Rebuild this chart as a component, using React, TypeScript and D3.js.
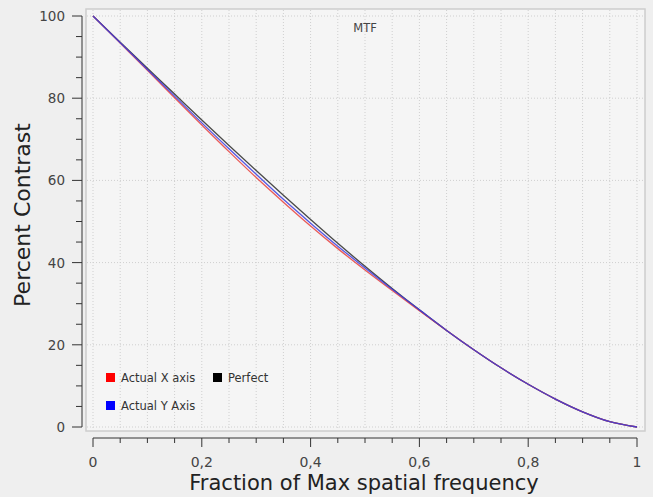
import { useEffect, useRef } from 'react';
import * as d3 from 'd3';

// fraction of max spatial frequency
const freqs = [0, 0.05, 0.1, 0.15, 0.2, 0.25, 0.3, 0.35, 0.4, 0.45, 0.5, 0.55, 0.6, 0.65, 0.7, 0.75, 0.8, 0.85, 0.9, 0.95, 1];
const perfect = [100, 93.6, 87.3, 81.0, 74.7, 68.5, 62.4, 56.4, 50.5, 44.7, 39.1, 33.7, 28.5, 23.5, 18.8, 14.4, 10.4, 6.8, 3.7, 1.3, 0];
const actualX = [100, 93.4, 86.8, 80.1, 73.5, 67.0, 60.7, 54.7, 48.9, 43.4, 38.2, 33.2, 28.3, 23.5, 18.8, 14.4, 10.4, 6.8, 3.7, 1.3, 0];
const actualY = [100, 93.5, 87.0, 80.5, 74.0, 67.7, 61.5, 55.4, 49.6, 44.0, 38.7, 33.5, 28.5, 23.5, 18.8, 14.4, 10.4, 6.8, 3.7, 1.3, 0];

const xTicks = [0, 0.2, 0.4, 0.6, 0.8, 1];
const xTickLabels = ['0', '0,2', '0,4', '0,6', '0,8', '1'];
const yTicks = [0, 20, 40, 60, 80, 100];

const seriesNames = ['Perfect', 'Actual X axis', 'Actual Y Axis'];
const seriesColors = ['#2a2a2a', '#e8403c', '#3a3ae0'];

const W = 653;
const H = 497;

export default function App() {
  const svgRef = useRef<SVGSVGElement>(null);

  useEffect(() => {
    if (!svgRef.current) return;
    const svg = d3.select(svgRef.current);
    svg.selectAll('*').remove();

    const x = d3.scaleLinear().domain([0, 1]).range([93, 637]);
    const y = d3.scaleLinear().domain([0, 100]).range([427, 16]);
    const font = 'DejaVu Sans, Verdana, sans-serif';

    svg.append('rect').attr('width', W).attr('height', H).attr('fill', '#efefef');

    // plot frame
    svg.append('rect')
      .attr('x', 86).attr('y', 9).attr('width', 559).attr('height', 422)
      .attr('fill', '#f5f5f5').attr('stroke', '#cdcdcd').attr('stroke-width', 1.5);

    // grid
    const g = svg.append('g');
    g.selectAll('line.vg')
      .data(d3.range(0, 21).map(i => i * 0.05))
      .join('line')
      .attr('x1', d => x(d)).attr('x2', d => x(d))
      .attr('y1', 10).attr('y2', 430)
      .attr('stroke', '#cfcfcf').attr('stroke-dasharray', '1,2');
    g.selectAll('line.hg')
      .data(yTicks)
      .join('line')
      .attr('x1', 87).attr('x2', 644)
      .attr('y1', d => y(d)).attr('y2', d => y(d))
      .attr('stroke', '#cfcfcf').attr('stroke-dasharray', '1,2');

    // y axis
    const ya = svg.append('g').attr('stroke', '#333');
    ya.append('line').attr('x1', 82).attr('x2', 82).attr('y1', y(100)).attr('y2', y(0));
    ya.selectAll('line.t')
      .data(d3.range(0, 21).map(i => i * 5))
      .join('line')
      .attr('x1', d => (d % 20 === 0 ? 72 : 76)).attr('x2', 82)
      .attr('y1', d => y(d)).attr('y2', d => y(d));
    svg.append('g').selectAll('text')
      .data(yTicks)
      .join('text')
      .attr('x', 65).attr('y', d => y(d) + 5)
      .attr('text-anchor', 'end')
      .attr('font-family', font).attr('font-size', 13.5).attr('fill', '#444')
      .text(d => String(d));

    // x axis
    const xa = svg.append('g').attr('stroke', '#333');
    xa.append('line').attr('x1', x(0)).attr('x2', x(1)).attr('y1', 438).attr('y2', 438);
    xa.selectAll('line.t')
      .data(d3.range(0, 21).map(i => i * 0.05))
      .join('line')
      .attr('x1', d => x(d)).attr('x2', d => x(d))
      .attr('y1', 438).attr('y2', (d, i) => (i % 4 === 0 ? 447 : 443));
    svg.append('g').selectAll('text')
      .data(xTicks)
      .join('text')
      .attr('x', d => x(d)).attr('y', 467)
      .attr('text-anchor', 'middle')
      .attr('font-family', font).attr('font-size', 14).attr('fill', '#444')
      .text((d, i) => xTickLabels[i]);

    // axis titles
    svg.append('text')
      .attr('x', 364).attr('y', 490)
      .attr('text-anchor', 'middle')
      .attr('font-family', font).attr('font-size', 21).attr('fill', '#222')
      .text('Fraction of Max spatial frequency');
    svg.append('text')
      .attr('transform', 'translate(30,215) rotate(-90)')
      .attr('text-anchor', 'middle')
      .attr('font-family', font).attr('font-size', 22).attr('fill', '#222')
      .text('Percent Contrast');

    svg.append('text')
      .attr('x', 365).attr('y', 32)
      .attr('text-anchor', 'middle')
      .attr('font-family', font).attr('font-size', 11.5).attr('fill', '#444')
      .text('MTF');

    // curves
    const line = d3.line<number>()
      .x((d, i) => x(freqs[i]))
      .y(d => y(d))
      .curve(d3.curveMonotoneX);
    [perfect, actualX, actualY].forEach((s, i) => {
      svg.append('path')
        .attr('d', line(s))
        .attr('fill', 'none')
        .attr('stroke', seriesColors[i])
        .attr('stroke-width', 1.3)
        .attr('opacity', 0.85);
    });

    // legend
    const legendPos = [[213, 378], [106, 378], [106, 406]];
    const lg = svg.append('g');
    seriesNames.forEach((name, i) => {
      const [lx, ly] = legendPos[i];
      lg.append('rect')
        .attr('x', lx).attr('y', ly - 5).attr('width', 9).attr('height', 9)
        .attr('fill', i === 0 ? '#000' : i === 1 ? '#f00' : '#00f');
      lg.append('text')
        .attr('x', lx + 15).attr('y', ly + 4)
        .attr('font-family', font).attr('font-size', 11.5).attr('fill', '#333')
        .text(name);
    });
  }, []);

  return (
    <svg ref={svgRef} width={W} height={H}
      style={{ position: 'absolute', left: 0, top: 0, display: 'block' }} />
  );
}
